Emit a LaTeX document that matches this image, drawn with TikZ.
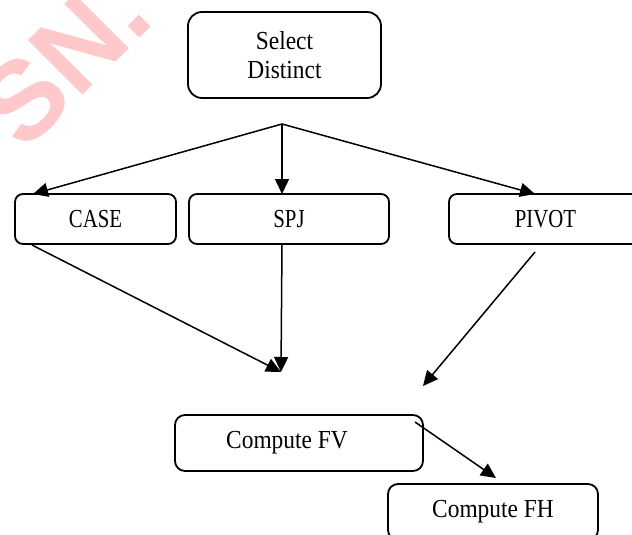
\documentclass[tikz,border=0pt]{standalone}
\usepackage{graphicx}
\usepackage{fontspec}
\setmainfont{Liberation Serif}
\newfontfamily\wmfont{Liberation Sans}
\usetikzlibrary{arrows.meta}
\definecolor{wmpink}{RGB}{255,200,202}
\newcommand{\condtxt}[1]{\scalebox{0.9}[1]{#1}}
\newcommand{\capstxt}[1]{\scalebox{0.8}[1]{#1}}
\begin{document}
\begin{tikzpicture}[x=1pt,y=-1pt,
  box/.style={draw, line width=1.8pt, rounded corners=8pt, inner sep=0pt,
    font=\fontsize{26}{29}\selectfont},
  lbl/.style={inner sep=0pt, font=\fontsize{26}{29}\selectfont},
  conn/.style={line width=1.5pt, -{Triangle[length=15pt,width=14pt]}}]
\useasboundingbox (0,0) rectangle (632,535);
\clip (0,0) rectangle (632,535);
\fill[white] (0,0) rectangle (632,535);
% watermark
\node[text=wmpink, font=\wmfont\bfseries\fontsize{112}{112}\selectfont, rotate=45, inner sep=0pt] (wm) at (63,60) {SN.};
% boxes
\node[box, rounded corners=14pt, minimum width=193pt, minimum height=86pt, align=center] (sd) at (284.5,55) {\condtxt{Select}\\\condtxt{Distinct}};
\node[box, minimum width=161pt, minimum height=50pt] (case) at (95.5,219) {\capstxt{CASE}};
\node[box, minimum width=200pt, minimum height=50pt] (spj) at (289,219) {\capstxt{SPJ}};
\node[box, minimum width=193pt, minimum height=50pt] (pivot) at (545.5,219) {\capstxt{PIVOT}};
\node[box, rounded corners=10pt, minimum width=248pt, minimum height=56pt] (fv) at (299,443) {};
\node[lbl] (fvt) at (287,443) {\condtxt{Compute FV}};
\node[box, rounded corners=10pt, minimum width=210pt, minimum height=56pt] (fh) at (493,512) {\condtxt{Compute FH}};
% connector points
\coordinate (br) at (282,124);
\coordinate (caseIn) at (33,194);
\coordinate (spjIn) at (282,194);
\coordinate (pivIn) at (535,194);
\coordinate (caseOut) at (32,245);
\coordinate (spjOut) at (282,244);
\coordinate (join) at (281,372);
\coordinate (pivOut) at (535,252);
\coordinate (fvIn) at (423,386);
\coordinate (fvOut) at (415,422);
\coordinate (fhIn) at (496,478);
% connectors
\draw[conn] (br) -- (caseIn);
\draw[conn] (br) -- (spjIn);
\draw[conn] (br) -- (pivIn);
\draw[conn] (caseOut) -- (join);
\draw[conn] (spjOut) -- (join);
\draw[conn] (pivOut) -- (fvIn);
\draw[conn] (fvOut) -- (fhIn);
\end{tikzpicture}
\end{document}
